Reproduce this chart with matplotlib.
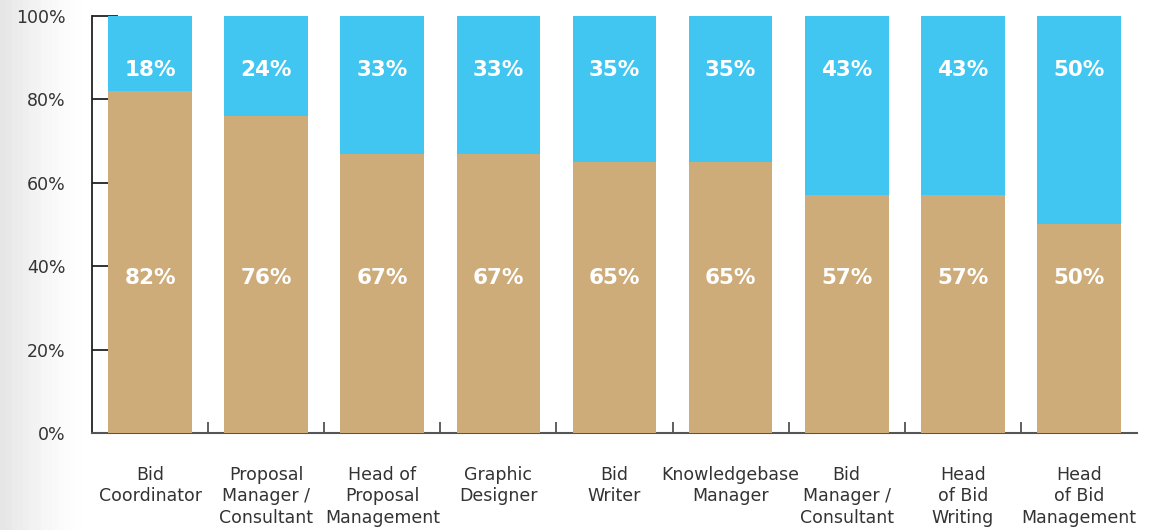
import matplotlib.pyplot as plt
import numpy as np

roles = ['Bid\nCoordinator', 'Proposal\nManager /\nConsultant', 'Head of\nProposal\nManagement',
         'Graphic\nDesigner', 'Bid\nWriter', 'Knowledgebase\nManager',
         'Bid\nManager /\nConsultant', 'Head\nof Bid\nWriting', 'Head\nof Bid\nManagement']
lower = [82, 76, 67, 67, 65, 65, 57, 57, 50]
upper = [18, 24, 33, 33, 35, 35, 43, 43, 50]

tan = '#CDAC7A'
blue = '#41C6F2'

fig = plt.figure(figsize=(11.59, 5.3), dpi=100)

# soft grey shading down the left edge
bg = fig.add_axes([0, 0, 1, 1], zorder=-10)
grad = np.linspace(0, 1, 200)
shade = np.clip(1 - grad / 0.075, 0, 1) ** 1.5
img = 1 - 0.10 * shade
bg.imshow(np.tile(img, (10, 1)), cmap='gray', vmin=0, vmax=1, aspect='auto',
          extent=[0, 1, 0, 1])
bg.axis('off')

ax = fig.add_axes([0.0794, 0.183, 0.9016, 0.787])
ax.patch.set_alpha(0)

x = np.arange(len(roles))
w = 0.72
ax.bar(x, lower, w, color=tan, zorder=3)
ax.bar(x, upper, w, bottom=lower, color=blue, zorder=3)

for xi, lo, up in zip(x, lower, upper):
    ax.text(xi, 87, f'{up}%', ha='center', va='center', color='white',
            fontsize=15.5, fontweight='bold', zorder=4)
    ax.text(xi, 37.2, f'{lo}%', ha='center', va='center', color='white',
            fontsize=15.5, fontweight='bold', zorder=4)

ax.set_xlim(-0.5, len(roles) - 0.5)
ax.set_ylim(0, 100)
ax.set_yticks(range(0, 101, 20))
ax.set_yticklabels([f'{v}%' for v in range(0, 101, 20)])
ax.tick_params(axis='y', direction='in', length=19, width=1.3, color='#222222',
               labelsize=12.5, labelcolor='#333333', pad=19)

ax.set_xticks(x)
ax.set_xticklabels(roles, linespacing=1.22)
ax.tick_params(axis='x', which='major', length=0, labelsize=12.5,
               labelcolor='#333333', pad=24)
ax.set_xticks(np.arange(0.5, len(roles) - 1), minor=True)
ax.tick_params(axis='x', which='minor', direction='in', length=8, width=1.2,
               color='#444444')
for t in ax.get_xticklabels():
    t.set_va('top')

for s in ['top', 'right']:
    ax.spines[s].set_visible(False)
ax.spines['left'].set_color('#222222')
ax.spines['left'].set_linewidth(1.3)
ax.spines['bottom'].set_color('#555555')
ax.spines['bottom'].set_linewidth(1.5)

fig.savefig('out.png', dpi=100)
